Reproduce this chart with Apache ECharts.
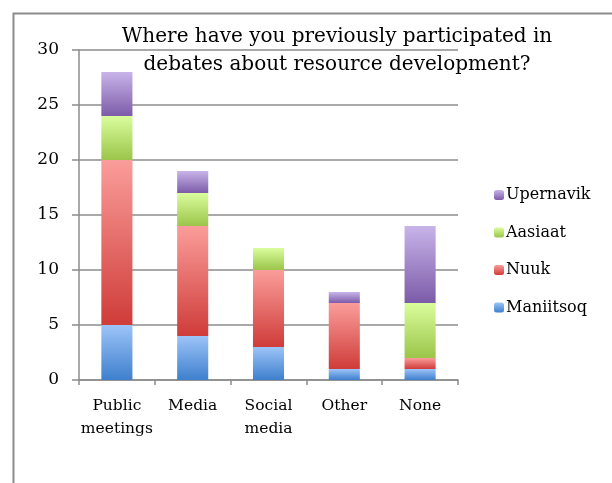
<!DOCTYPE html>
<html>
<head>
<meta charset="utf-8">
<script src="https://cdn.jsdelivr.net/npm/echarts@6/dist/echarts.min.js"></script>
<style>
html,body{margin:0;padding:0;background:#fff;overflow:hidden;}
#c{width:612px;height:483px;}
</style>
</head>
<body>
<div id="c"></div>
<script>
const categories = ['Public\nmeetings', 'Media', 'Social\nmedia', 'Other', 'None'];
const maniitsoq = [5, 4, 3, 1, 1];
const nuuk = [15, 10, 7, 6, 1];
const aasiaat = [4, 3, 2, 0, 5];
const upernavik = [4, 2, 0, 1, 7];
const yTicks = [0, 5, 10, 15, 20, 25, 30];

const FONT = 'DejaVu Serif';
const chart = echarts.init(document.getElementById('c'));
function grad(top, bottom) {
  return new echarts.graphic.LinearGradient(0, 0, 0, 1, [
    {offset: 0, color: top}, {offset: 1, color: bottom}
  ]);
}
const seriesDefs = [
  {name: 'Maniitsoq', data: maniitsoq, c: ['#9dc4f8', '#3e7fcd']},
  {name: 'Nuuk', data: nuuk, c: ['#fa9d9a', '#cf3c39']},
  {name: 'Aasiaat', data: aasiaat, c: ['#dafd9d', '#9bc54a']},
  {name: 'Upernavik', data: upernavik, c: ['#c8b4e9', '#7c5ba8']}
];
chart.setOption({
  animation: false,
  backgroundColor: '#fff',
  graphic: [{
    type: 'rect', left: 11, top: 11, z: -10,
    shape: {x: 0, y: 0, width: 700, height: 600},
    style: {fill: 'none', stroke: '#8c8c8c', lineWidth: 2}
  }],
  title: {
    text: 'Where have you previously participated in\ndebates about resource development?',
    left: 332, top: 18, textAlign: 'center',
    textStyle: {fontFamily: FONT, fontSize: 20, fontWeight: 'normal', color: '#000', lineHeight: 28}
  },
  legend: {
    orient: 'vertical', left: 489, top: 182,
    itemWidth: 10, itemHeight: 10, itemGap: 21.5,
    data: ['Upernavik', 'Aasiaat', 'Nuuk', 'Maniitsoq'],
    textStyle: {fontFamily: FONT, fontSize: 16, color: '#000', padding: [0, 0, 0, -3]}
  },
  grid: {left: 79, right: 154, top: 50, bottom: 103},
  xAxis: {
    type: 'category', data: categories,
    axisLine: {lineStyle: {color: '#8c8c8c', width: 1.5}},
    axisTick: {show: true, length: 5, lineStyle: {color: '#8c8c8c', width: 1.5}},
    axisLabel: {interval: 0, fontFamily: FONT, fontSize: 15.5, color: '#000', margin: 14, lineHeight: 23}
  },
  yAxis: {
    type: 'value', min: 0, max: 30, interval: 5,
    axisLine: {show: true, lineStyle: {color: '#8c8c8c', width: 1.5}},
    axisTick: {show: true, length: 7, lineStyle: {color: '#8c8c8c', width: 1.5}},
    splitLine: {lineStyle: {color: '#8c8c8c', width: 1.5}},
    axisLabel: {fontFamily: FONT, fontSize: 17, color: '#000', margin: 20,
      formatter: v => yTicks.includes(v) ? String(v) : ''}
  },
  series: seriesDefs.map(s => ({
    name: s.name, type: 'bar', stack: 'all', data: s.data,
    barWidth: '41%',
    itemStyle: {color: grad(s.c[0], s.c[1])}
  }))
});
</script>
</body>
</html>
